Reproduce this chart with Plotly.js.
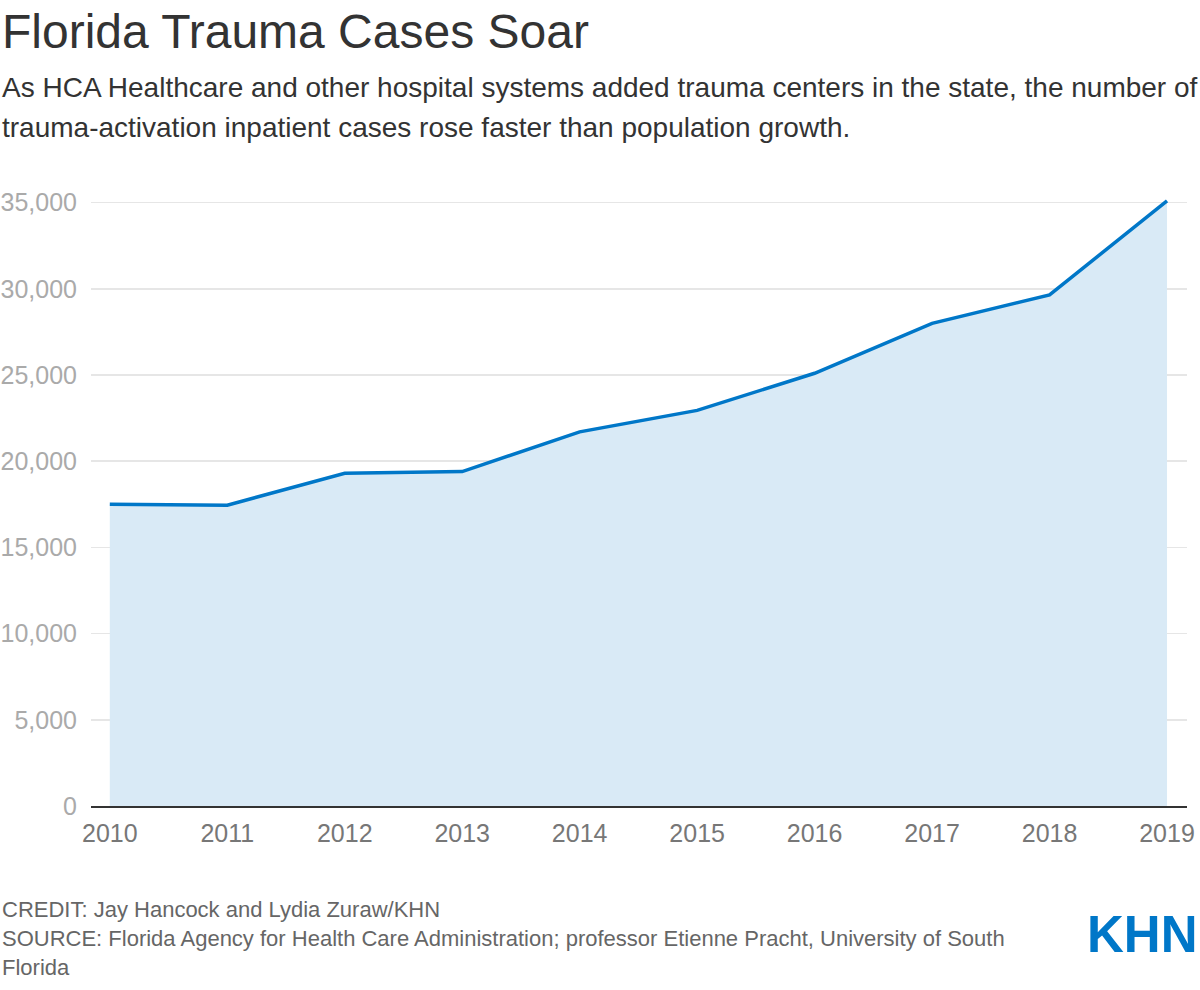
<!DOCTYPE html>
<html>
<head>
<meta charset="utf-8">
<script src="https://cdn.plot.ly/plotly-3.0.1.min.js"></script>
<style>
  html, body { margin: 0; padding: 0; background: #fff; }
  #chart { width: 1200px; height: 990px; }
</style>
</head>
<body>
<div id="chart"></div>
<script>
const years = [2010, 2011, 2012, 2013, 2014, 2015, 2016, 2017, 2018, 2019];
const cases = [17500, 17450, 19300, 19400, 21700, 22950, 25100, 28000, 29650, 35100];
const yTicks = [0, 5000, 10000, 15000, 20000, 25000, 30000, 35000];

const font = 'Liberation Sans, Arial, Helvetica, sans-serif';

// plot area: x 91..1187, y 194..806
const plotW = 1096, plotH = 612;
function px(x) { return (x - 91) / plotW; }
function py(y) { return (806 - y) / plotH; }

const trace = {
    x: years,
    y: cases,
    type: 'scatter',
    mode: 'lines',
    fill: 'tozeroy',
    fillcolor: '#d9eaf6',
    line: { color: '#0077c8', width: 3.5 },
    hoverinfo: 'x+y',
    cliponaxis: false
};

// header / footer lines, each its own annotation
function textLine(text, yPix, size, color) {
    return {
        text: text,
        xref: 'paper', yref: 'paper', x: px(0), y: py(yPix),
        xanchor: 'left', yanchor: 'middle', showarrow: false,
        font: { size: size, color: color, family: font }
    };
}

const layout = {
    width: 1200,
    height: 990,
    margin: { l: 91, r: 13, t: 194, b: 184 },
    paper_bgcolor: '#fff',
    plot_bgcolor: '#fff',
    showlegend: false,
    font: { family: font },
    xaxis: {
        range: [2009.84, 2019.17],
        tickvals: years,
        ticktext: years.map(String),
        showgrid: false,
        zeroline: false,
        showline: true,
        linecolor: '#333',
        linewidth: 2,
        ticks: 'outside',
        ticklen: 4,
        tickcolor: 'rgba(0,0,0,0)',
        tickfont: { size: 25, color: '#777', family: font },
        fixedrange: true
    },
    yaxis: {
        range: [0, 35500],
        tickvals: yTicks,
        ticktext: yTicks.map(v => v.toLocaleString('en-US')),
        showgrid: true,
        gridcolor: '#e6e6e6',
        gridwidth: 1.5,
        zeroline: false,
        ticks: 'outside',
        ticklen: 8,
        tickcolor: 'rgba(0,0,0,0)',
        tickfont: { size: 25, color: '#aaa', family: font },
        fixedrange: true
    },
    annotations: [
        textLine('Florida Trauma Cases Soar', 31, 48, '#333'),
        textLine('As HCA Healthcare and other hospital systems added trauma centers in the state, the number of', 88, 28, '#333'),
        textLine('trauma-activation inpatient cases rose faster than population growth.', 128, 28, '#333'),
        textLine('CREDIT: Jay Hancock and Lydia Zuraw/KHN', 909, 22, '#666'),
        textLine('SOURCE: Florida Agency for Health Care Administration; professor Etienne Pracht, University of South', 938, 22, '#666'),
        textLine('Florida', 967, 22, '#666'),
        {
            text: '<b>KHN</b>',
            xref: 'paper', yref: 'paper', x: px(1200), y: py(934),
            xanchor: 'right', yanchor: 'middle', showarrow: false,
            font: { size: 51, color: '#0077c8', family: 'Liberation Sans Narrow, Arial Narrow, ' + font }
        }
    ]
};

Plotly.newPlot('chart', [trace], layout, { displayModeBar: false, staticPlot: true });
</script>
</body>
</html>
